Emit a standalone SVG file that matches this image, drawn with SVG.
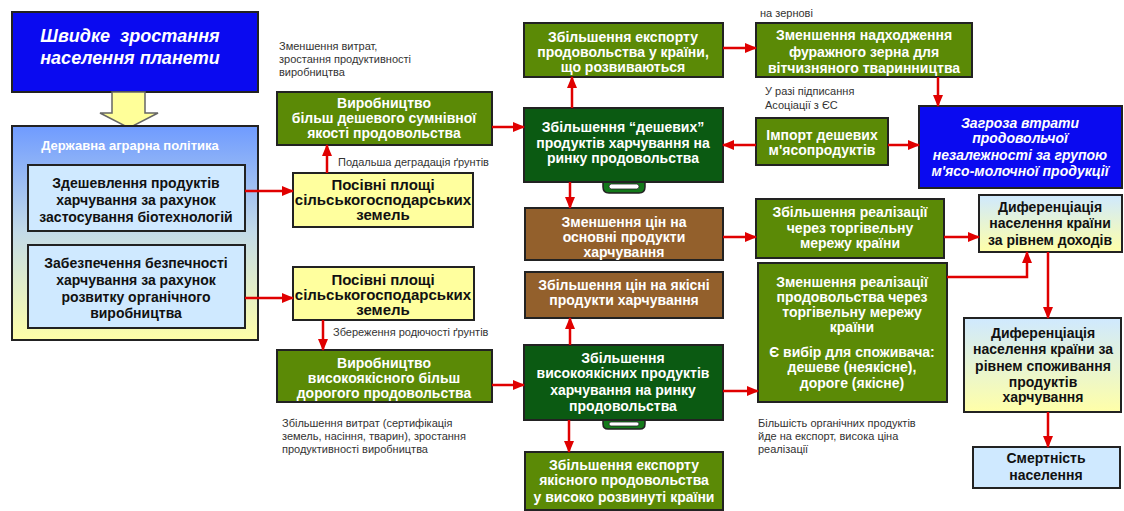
<svg xmlns="http://www.w3.org/2000/svg" width="1124" height="511" viewBox="0 0 1124 511">
<style>
.box{stroke:#222;stroke-width:2}
.blue{fill:#0a0af0}
.olive{fill:#5b8a06}
.dg{fill:#0b5a12}
.brown{fill:#93602c}
.yel{fill:#ffff9e}
.lb{fill:#cfe9ff}
.wt{font-family:"Liberation Sans",Arial,sans-serif;font-weight:bold;font-size:14px;fill:#fff;text-anchor:middle}
.bt{font-family:"Liberation Sans",Arial,sans-serif;font-weight:bold;font-size:14px;fill:#111;text-anchor:middle}
.it{font-style:italic}
.lab{font-family:"Liberation Sans",Arial,sans-serif;font-size:11px;fill:#333}
.conn{stroke:#e00000;stroke-width:2.5;fill:none;marker-end:url(#ah)}
.tab{fill:#137a1a;stroke:#222;stroke-width:1.5}
</style>
<defs>
<marker id="ah" markerUnits="userSpaceOnUse" markerWidth="12" markerHeight="10" refX="11" refY="5" orient="auto">
<path d="M0,0 L12,5 L0,10 Z" fill="#e00000"/>
</marker>
<linearGradient id="gPol" x1="0" y1="0" x2="0" y2="1">
<stop offset="0" stop-color="#6f9bff"/>
<stop offset="0.5" stop-color="#c4dbe8"/>
<stop offset="1" stop-color="#ffffa8"/>
</linearGradient>
<linearGradient id="gDiff" x1="0" y1="0" x2="0" y2="1">
<stop offset="0" stop-color="#cfe9ff"/>
<stop offset="1" stop-color="#ffffa8"/>
</linearGradient>
</defs>
<rect width="1124" height="511" fill="#fff"/>

<g id="n-title">
<rect class="box blue" x="12" y="12" width="246" height="80"/>
<text class="wt it" style="font-size:18px" x="130" y="42" xml:space="preserve">Швидке  зростання</text>
<text class="wt it" style="font-size:18px" x="130" y="64">населення планети</text>
</g>
<g id="n-arrow-block">
<polygon points="112,92 145,92 145,113 158,113 129,128 100,113 112,113" fill="#ffff99" stroke="#666" stroke-width="1.5"/>
</g>
<g id="n-policy">
<rect class="box" x="12" y="126" width="246" height="214" fill="url(#gPol)" stroke="#555" stroke-width="1.5"/>
<text class="wt" style="font-size:13px" x="130" y="150">Державна аграрна політика</text>
</g>
<g id="n-cheap-bio">
<rect class="box lb" x="28" y="165" width="217" height="66"/>
<text class="bt" x="136" y="188">Здешевлення продуктів</text>
<text class="bt" x="136" y="205">харчування за рахунок</text>
<text class="bt" x="136" y="222">застосування біотехнологій</text>
</g>
<g id="n-organic">
<rect class="box lb" x="28" y="245" width="217" height="83"/>
<text class="bt" x="136" y="268">Забезпечення безпечності</text>
<text class="bt" x="136" y="285">харчування за рахунок</text>
<text class="bt" x="136" y="302">розвитку органічного</text>
<text class="bt" x="136" y="318">виробництва</text>
</g>
<g id="n-sown1">
<rect class="box yel" x="293" y="173" width="180" height="54"/>
<text class="bt" style="font-size:15px" x="383" y="190">Посівні площі</text>
<text class="bt" style="font-size:15px" x="383" y="205">сільськогосподарських</text>
<text class="bt" style="font-size:15px" x="383" y="220">земель</text>
</g>
<g id="n-sown2">
<rect class="box yel" x="293" y="267" width="181" height="53"/>
<text class="bt" style="font-size:15px" x="383" y="285">Посівні площі</text>
<text class="bt" style="font-size:15px" x="383" y="300">сільськогосподарських</text>
<text class="bt" style="font-size:15px" x="383" y="315">земель</text>
</g>
<g id="n-prod-cheap">
<rect class="box olive" x="277" y="92" width="215" height="53"/>
<text class="wt" x="384" y="108">Виробництво</text>
<text class="wt" x="384" y="123">більш дешевого сумнівної</text>
<text class="wt" x="384" y="138">якості продовольства</text>
</g>
<g id="n-prod-quality">
<rect class="box olive" x="277" y="350" width="215" height="52"/>
<text class="wt" x="384" y="368">Виробництво</text>
<text class="wt" x="384" y="383">високоякісного більш</text>
<text class="wt" x="384" y="398">дорогого продовольства</text>
</g>
<g id="n-export-dev">
<rect class="box olive" x="524" y="23" width="199" height="54"/>
<text class="wt" x="623" y="42">Збільшення експорту</text>
<text class="wt" x="623" y="57">продовольства у країни,</text>
<text class="wt" x="623" y="72">що розвиваються</text>
</g>
<g id="n-cheap-market">
<path class="tab" d="M603,178 L603,187 Q603,193 609,193 L639,193 Q645,193 645,187 L645,178 Z"/>
<rect x="609" y="184" width="30" height="5" rx="2.5" fill="#fff" stroke="#222" stroke-width="0.8"/>
<rect class="box dg" x="524" y="108" width="199" height="74"/>
<text class="wt" x="623" y="132">Збільшення “дешевих”</text>
<text class="wt" x="623" y="148">продуктів харчування на</text>
<text class="wt" x="623" y="163">ринку продовольства</text>
</g>
<g id="n-price-down">
<rect class="box brown" x="525" y="208" width="198" height="52"/>
<text class="wt" x="624" y="227">Зменшення цін на</text>
<text class="wt" x="624" y="242">основні продукти</text>
<text class="wt" x="624" y="257">харчування</text>
</g>
<g id="n-price-up">
<rect class="box brown" x="525" y="272" width="198" height="46"/>
<text class="wt" x="624" y="290">Збільшення цін на якісні</text>
<text class="wt" x="624" y="305">продукти харчування</text>
</g>
<g id="n-quality-market">
<path class="tab" d="M603,416 L603,424 Q603,429 608,429 L640,429 Q645,429 645,424 L645,416 Z"/>
<rect x="609" y="422" width="30" height="4" rx="2" fill="#fff" stroke="#222" stroke-width="0.8"/>
<rect class="box dg" x="524" y="345" width="199" height="75"/>
<text class="wt" x="623" y="363">Збільшення</text>
<text class="wt" x="623" y="378">високоякісних продуктів</text>
<text class="wt" x="623" y="395">харчування на ринку</text>
<text class="wt" x="623" y="411">продовольства</text>
</g>
<g id="n-export-high">
<rect class="box olive" x="525" y="452" width="198" height="58"/>
<text class="wt" x="624" y="470">Збільшення експорту</text>
<text class="wt" x="624" y="485">якісного продовольства</text>
<text class="wt" x="624" y="502">у високо розвинуті країни</text>
</g>
<g id="n-feed">
<rect class="box olive" x="756" y="23" width="216" height="54"/>
<text class="wt" x="864" y="40">Зменшення надходження</text>
<text class="wt" x="864" y="57">фуражного зерна для</text>
<text class="wt" x="864" y="73">вітчизняного тваринництва</text>
</g>
<g id="n-import">
<rect class="box olive" x="756" y="118" width="132" height="47"/>
<text class="wt" x="822" y="140">Імпорт дешевих</text>
<text class="wt" x="822" y="155">м'ясопродуктів</text>
</g>
<g id="n-threat">
<rect class="box blue" x="919" y="106" width="203" height="82"/>
<text class="wt it" x="1020" y="128">Загроза втрати</text>
<text class="wt it" x="1020" y="143">продовольчої</text>
<text class="wt it" x="1020" y="160">незалежності за групою</text>
<text class="wt it" x="1020" y="176">м'ясо-молочної продукції</text>
</g>
<g id="n-sales-up">
<rect class="box olive" x="756" y="199" width="188" height="59"/>
<text class="wt" x="850" y="217">Збільшення реалізації</text>
<text class="wt" x="850" y="233">через торгівельну</text>
<text class="wt" x="850" y="248">мережу країни</text>
</g>
<g id="n-sales-down">
<rect class="box olive" x="758" y="263" width="189" height="139"/>
<text class="wt" x="852" y="287">Зменшення реалізації</text>
<text class="wt" x="852" y="302">продовольства через</text>
<text class="wt" x="852" y="317">торгівельну мережу</text>
<text class="wt" x="852" y="332">країни</text>
<text class="wt" x="852" y="357">Є вибір для споживача:</text>
<text class="wt" x="852" y="372">дешеве (неякісне),</text>
<text class="wt" x="852" y="388">дороге (якісне)</text>
</g>
<g id="n-diff-income">
<rect class="box" x="979" y="195" width="143" height="57" fill="url(#gDiff)"/>
<text class="bt" x="1050" y="212">Диференціація</text>
<text class="bt" x="1050" y="228">населення країни</text>
<text class="bt" x="1050" y="245">за рівнем доходів</text>
</g>
<g id="n-diff-consumption">
<rect class="box" x="964" y="318" width="157" height="94" fill="url(#gDiff)"/>
<text class="bt" x="1043" y="338">Диференціація</text>
<text class="bt" x="1043" y="354">населення країни за</text>
<text class="bt" x="1043" y="371">рівнем споживання</text>
<text class="bt" x="1043" y="387">продуктів</text>
<text class="bt" x="1043" y="402">харчування</text>
</g>
<g id="n-mortality">
<rect class="box lb" x="973" y="447" width="147" height="41"/>
<text class="bt" x="1046" y="463">Смертність</text>
<text class="bt" x="1046" y="480">населення</text>
</g>

<g id="labels">
<text class="lab" x="279" y="50">Зменшення витрат,</text>
<text class="lab" x="279" y="63">зростання продуктивності</text>
<text class="lab" x="279" y="76">виробництва</text>
<text class="lab" x="338" y="166">Подальша деградація ґрунтів</text>
<text class="lab" x="333" y="336">Збереження родючості ґрунтів</text>
<text class="lab" x="282" y="427">Збільшення витрат (сертифікація</text>
<text class="lab" x="282" y="440">земель, насіння, тварин), зростання</text>
<text class="lab" x="282" y="453">продуктивності виробництва</text>
<text class="lab" x="760" y="17">на зернові</text>
<text class="lab" x="765" y="95">У разі підписання</text>
<text class="lab" x="765" y="109">Асоціації з ЄС</text>
<text class="lab" x="758" y="427">Більшість органічних продуктів</text>
<text class="lab" x="758" y="440">йде на експорт, висока ціна</text>
<text class="lab" x="758" y="453">реалізації</text>
</g>

<g id="connectors">
<path class="conn" d="M245,191 L293,191"/>
<path class="conn" d="M245,298 L293,298"/>
<path class="conn" d="M327,173 L327,145"/>
<path class="conn" d="M323,320 L323,350"/>
<path class="conn" d="M492,127 L524,127"/>
<path class="conn" d="M492,385 L524,385"/>
<path class="conn" d="M572,108 L572,77"/>
<path class="conn" d="M723,48 L756,48"/>
<path class="conn" d="M938,77 L938,106"/>
<path class="conn" d="M756,145 L723,145"/>
<path class="conn" d="M888,145 L919,145"/>
<path class="conn" d="M570,182 L570,208"/>
<path class="conn" d="M723,237 L756,237"/>
<path class="conn" d="M944,237 L979,237"/>
<path class="conn" d="M947,277 L1027,277 L1027,252"/>
<path class="conn" d="M1048,252 L1048,318"/>
<path class="conn" d="M1048,412 L1048,447"/>
<path class="conn" d="M570,345 L570,318"/>
<path class="conn" d="M723,391 L758,391"/>
<path class="conn" d="M569,420 L569,452"/>
</g>
</svg>
